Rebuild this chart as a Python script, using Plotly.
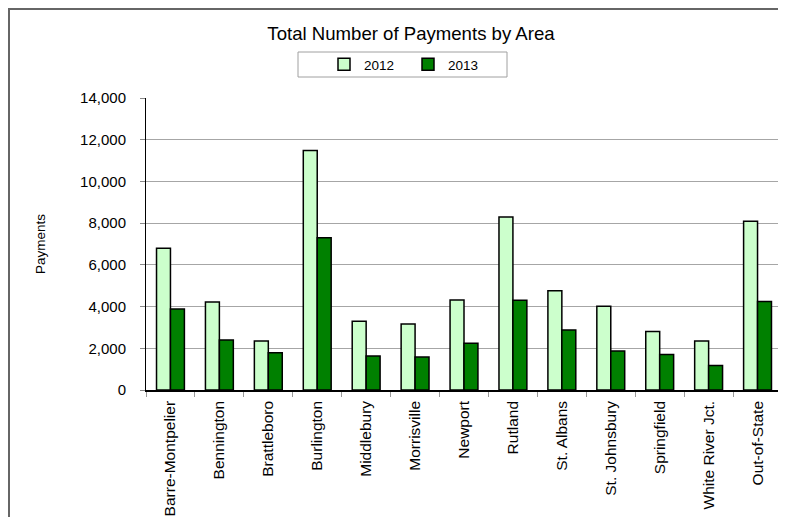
import plotly.graph_objects as go

areas = ["Barre-Montpelier", "Bennington", "Brattleboro", "Burlington", "Middlebury",
         "Morrisville", "Newport", "Rutland", "St. Albans", "St. Johnsbury",
         "Springfield", "White River Jct.", "Out-of-State"]
pay_2012 = [6800, 4220, 2350, 11480, 3300, 3160, 4320, 8300, 4760, 4010, 2800, 2350, 8090]
pay_2013 = [3880, 2400, 1780, 7300, 1630, 1580, 2240, 4300, 2880, 1870, 1700, 1170, 4240]

FONT = "Liberation Sans, Arial, sans-serif"

# plot area in figure pixels (page body adds 8px offset)
L, R, T, B = 138, 774, 90, 382
W, H = R - L, B - T

def px(x):
    return (x - L) / W

def py(y):
    return (B - y) / H

fig = go.Figure()
fig.add_trace(go.Bar(name="2012", x=areas, y=pay_2012,
                     marker=dict(color="#CCFFCC", line=dict(color="black", width=1.5))))
fig.add_trace(go.Bar(name="2013", x=areas, y=pay_2013,
                     marker=dict(color="#008000", line=dict(color="black", width=1.5))))

fig.update_layout(
    width=786, height=517,
    margin=dict(l=L, r=786 - R, t=T, b=517 - B, pad=0),
    paper_bgcolor="white", plot_bgcolor="white",
    font=dict(family=FONT, color="black"),
    barmode="group", bargap=0.43, bargroupgap=0,
    title=dict(text="Total Number of Payments by Area", x=403/786, xanchor="center",
               y=1 - 25/517, yanchor="middle",
               font=dict(family=FONT, size=18.6, color="black")),
    legend=dict(orientation="h", x=px(316), xanchor="left",
                y=py(56.5), yanchor="middle",
                bgcolor="rgba(0,0,0,0)", borderwidth=0,
                font=dict(size=13.5), entrywidth=39, entrywidthmode="pixels",
                traceorder="normal", tracegroupgap=0),
    showlegend=True,
)

fig.update_yaxes(range=[0, 14000], dtick=2000, tickformat=",", showgrid=True,
                 gridcolor="#a6a6a6", gridwidth=1, showline=True, linecolor="black",
                 linewidth=1, ticks="outside", ticklen=5, tickcolor="#888888",
                 tickfont=dict(size=15), ticklabelstandoff=11, automargin=False,
                 title=dict(text="Payments", font=dict(size=13.5), standoff=31),
                 zeroline=False)
fig.update_xaxes(showline=True, linecolor="black", linewidth=1.5, ticks="outside",
                 tickson="boundaries", ticklen=5, tickcolor="#999999", tickangle=-90,
                 tickfont=dict(size=15.5), ticklabelstandoff=3, automargin=False)

# outer chart frame, legend box and right plot border
fig.add_shape(type="rect", xref="paper", yref="paper", x0=px(1), x1=1.05, y0=-0.6, y1=py(1),
              line=dict(color="#666666", width=2), layer="below")
fig.add_shape(type="rect", xref="paper", yref="paper", x0=px(290), x1=px(499),
              y0=py(69), y1=py(44), line=dict(color="#a0a0a0", width=1),
              fillcolor="white", layer="below")
fig.add_shape(type="line", xref="paper", yref="paper", x0=1, x1=1, y0=0, y1=1,
              line=dict(color="#a6a6a6", width=1))

fig.write_html("out.html")
